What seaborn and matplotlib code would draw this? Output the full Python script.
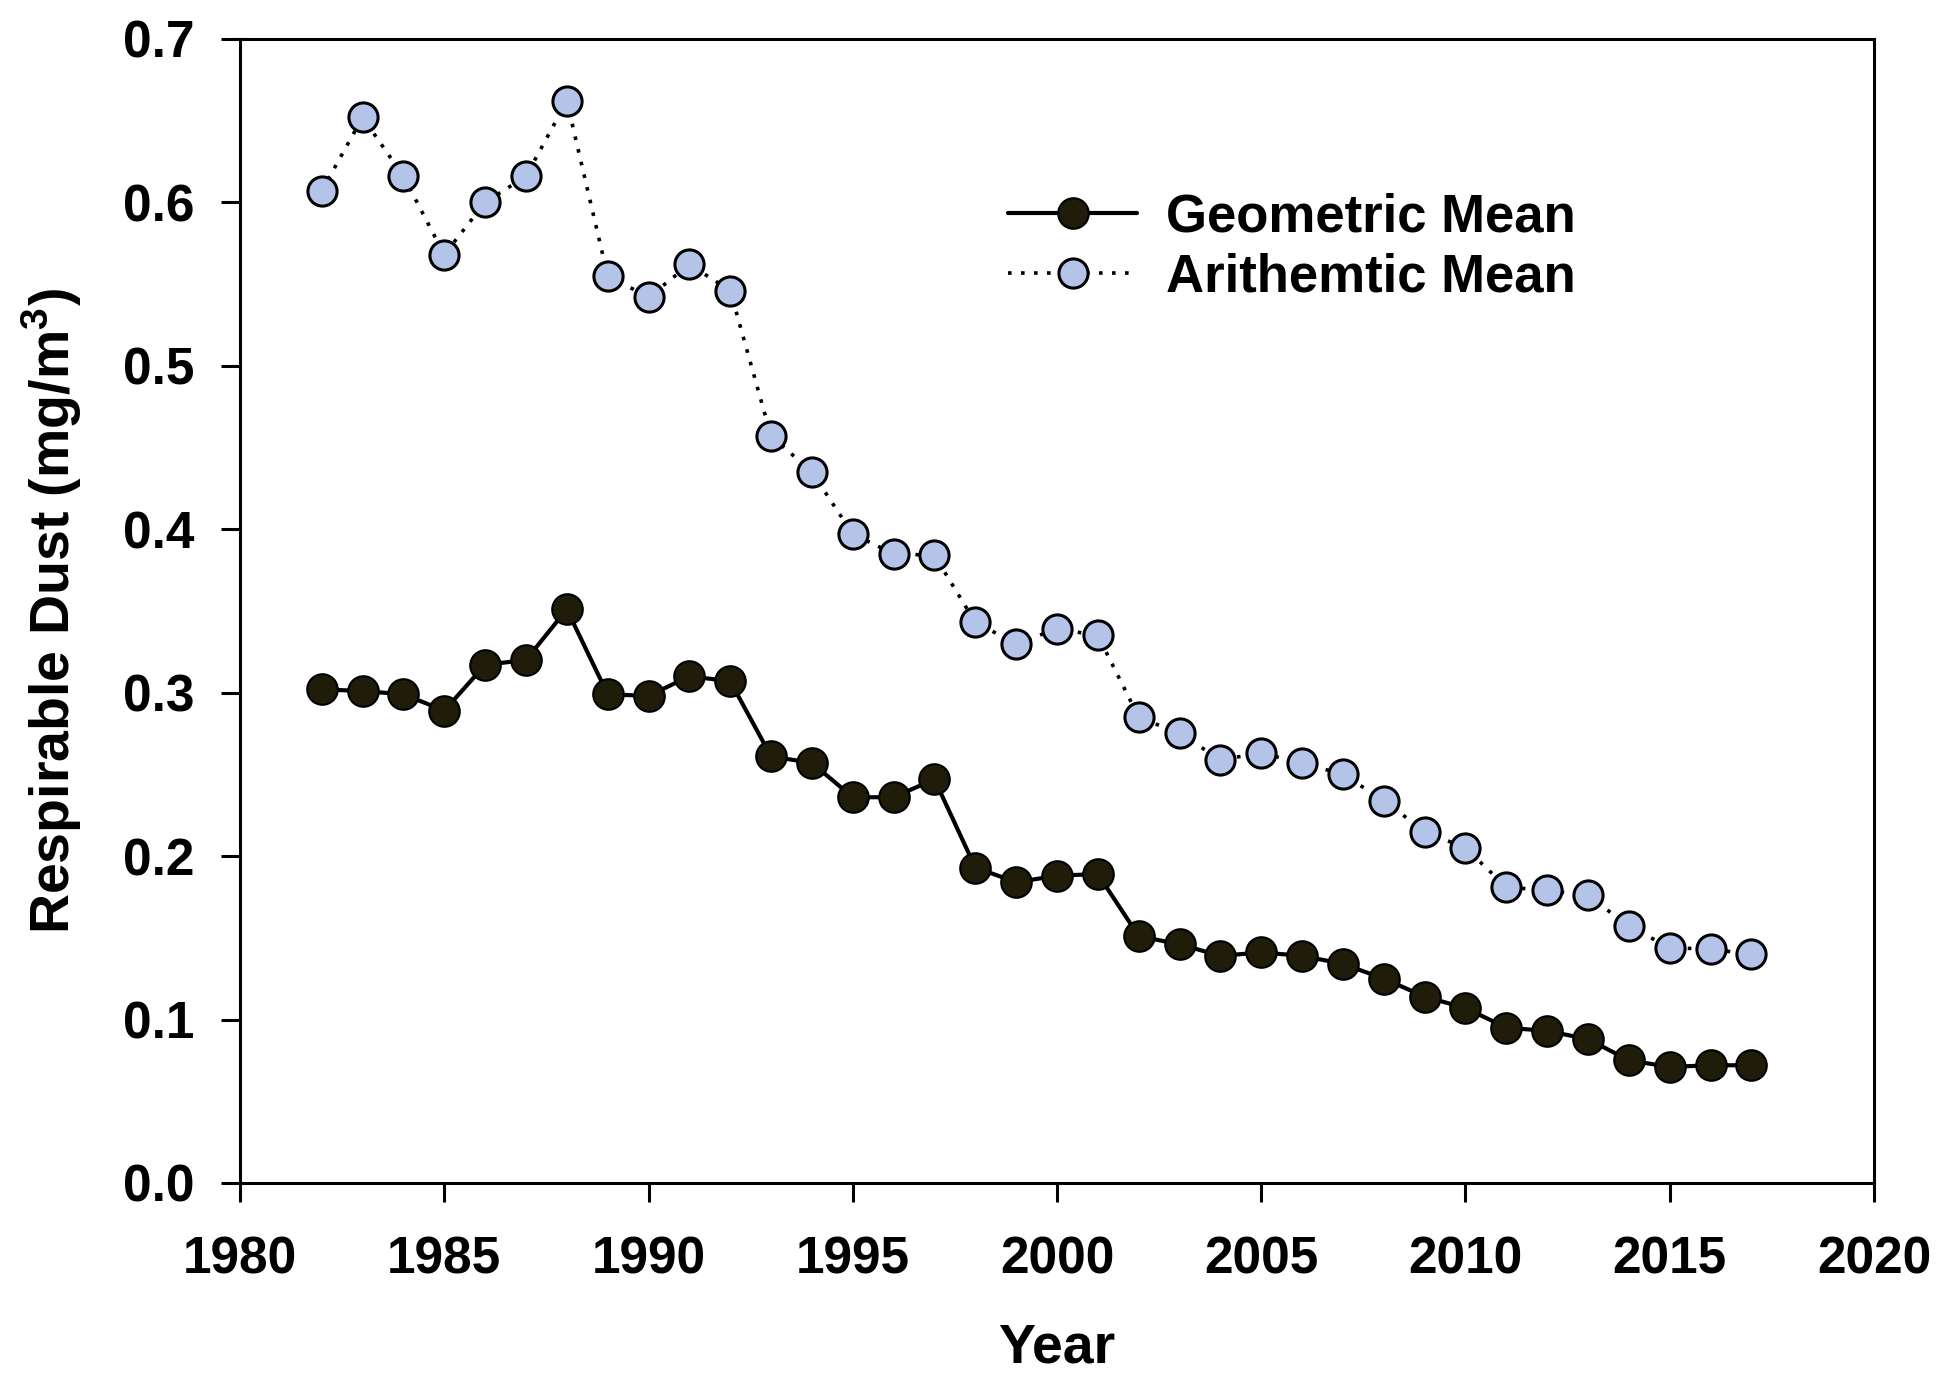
import numpy as np
import pandas as pd
import matplotlib
matplotlib.use("Agg")
import matplotlib.pyplot as plt
import seaborn as sns

# Data
years = list(range(1982, 2018))
geometric = [0.302, 0.301, 0.299, 0.289, 0.317, 0.320, 0.351, 0.299, 0.298, 0.310,
             0.307, 0.261, 0.257, 0.236, 0.236, 0.247, 0.193, 0.184, 0.188, 0.189,
             0.151, 0.146, 0.139, 0.141, 0.139, 0.134, 0.125, 0.114, 0.107, 0.095,
             0.093, 0.088, 0.075, 0.071, 0.072, 0.072]
arithmetic = [0.607, 0.652, 0.616, 0.568, 0.600, 0.616, 0.662, 0.555, 0.542, 0.562,
              0.546, 0.457, 0.435, 0.397, 0.385, 0.384, 0.343, 0.330, 0.339, 0.335,
              0.285, 0.275, 0.259, 0.263, 0.257, 0.250, 0.234, 0.215, 0.205, 0.181,
              0.179, 0.176, 0.157, 0.144, 0.143, 0.140]
x_ticks = [1980, 1985, 1990, 1995, 2000, 2005, 2010, 2015, 2020]
y_ticks = [0.0, 0.1, 0.2, 0.3, 0.4, 0.5, 0.6, 0.7]

df = pd.DataFrame({"Year": years, "Geometric Mean": geometric, "Arithemtic Mean": arithmetic})

sns.set_style("ticks")
plt.rcParams["font.family"] = ["Liberation Sans", "DejaVu Sans"]
plt.rcParams["font.weight"] = "bold"
plt.rcParams["text.color"] = "black"
plt.rcParams["axes.labelcolor"] = "black"
plt.rcParams["xtick.color"] = "black"
plt.rcParams["ytick.color"] = "black"
plt.rcParams["mathtext.fontset"] = "custom"
plt.rcParams["mathtext.bf"] = "Liberation Sans:bold"
plt.rcParams["mathtext.rm"] = "Liberation Sans:bold"

fig = plt.figure(figsize=(19.5, 13.8), dpi=100)
ax = fig.add_axes([0.1231, 0.1428, 0.8379, 0.829])

sns.lineplot(data=df, x="Year", y="Geometric Mean", ax=ax, color="black",
             linewidth=3, marker="o", markersize=22, markerfacecolor="#1f1c0a",
             markeredgecolor="black", markeredgewidth=1.5, label="Geometric Mean")
sns.lineplot(data=df, x="Year", y="Arithemtic Mean", ax=ax, color="black",
             linewidth=2.6, linestyle=(0, (1, 2.6)), marker="o", markersize=21,
             markerfacecolor="#b4c4e8", markeredgecolor="black", markeredgewidth=2.2,
             label="Arithemtic Mean")

ax.set_xlim(1980, 2020)
ax.set_ylim(0, 0.7)
ax.set_xticks(x_ticks)
ax.set_yticks(y_ticks)
ax.set_yticklabels([f"{v:.1f}" for v in y_ticks])
ax.tick_params(axis="both", direction="out", length=14, width=2.2, labelsize=37)
ax.tick_params(axis="x", pad=24)
ax.tick_params(axis="y", pad=19)
for s in ax.spines.values():
    s.set_linewidth(2.2)
    s.set_color("black")

ax.set_xlabel("Year", fontsize=40, fontweight="bold", labelpad=27)
ax.set_ylabel(r"Respirable Dust (mg/m$^{\mathbf{3}}$)", fontsize=40, fontweight="bold", labelpad=28)

leg = ax.legend(loc="upper left", bbox_to_anchor=(0.470, 0.866), frameon=False,
                fontsize=38, handlelength=2.45, handletextpad=0.55, labelspacing=0.2,
                borderpad=0, borderaxespad=0)

fig.savefig("out.png", dpi=100)
